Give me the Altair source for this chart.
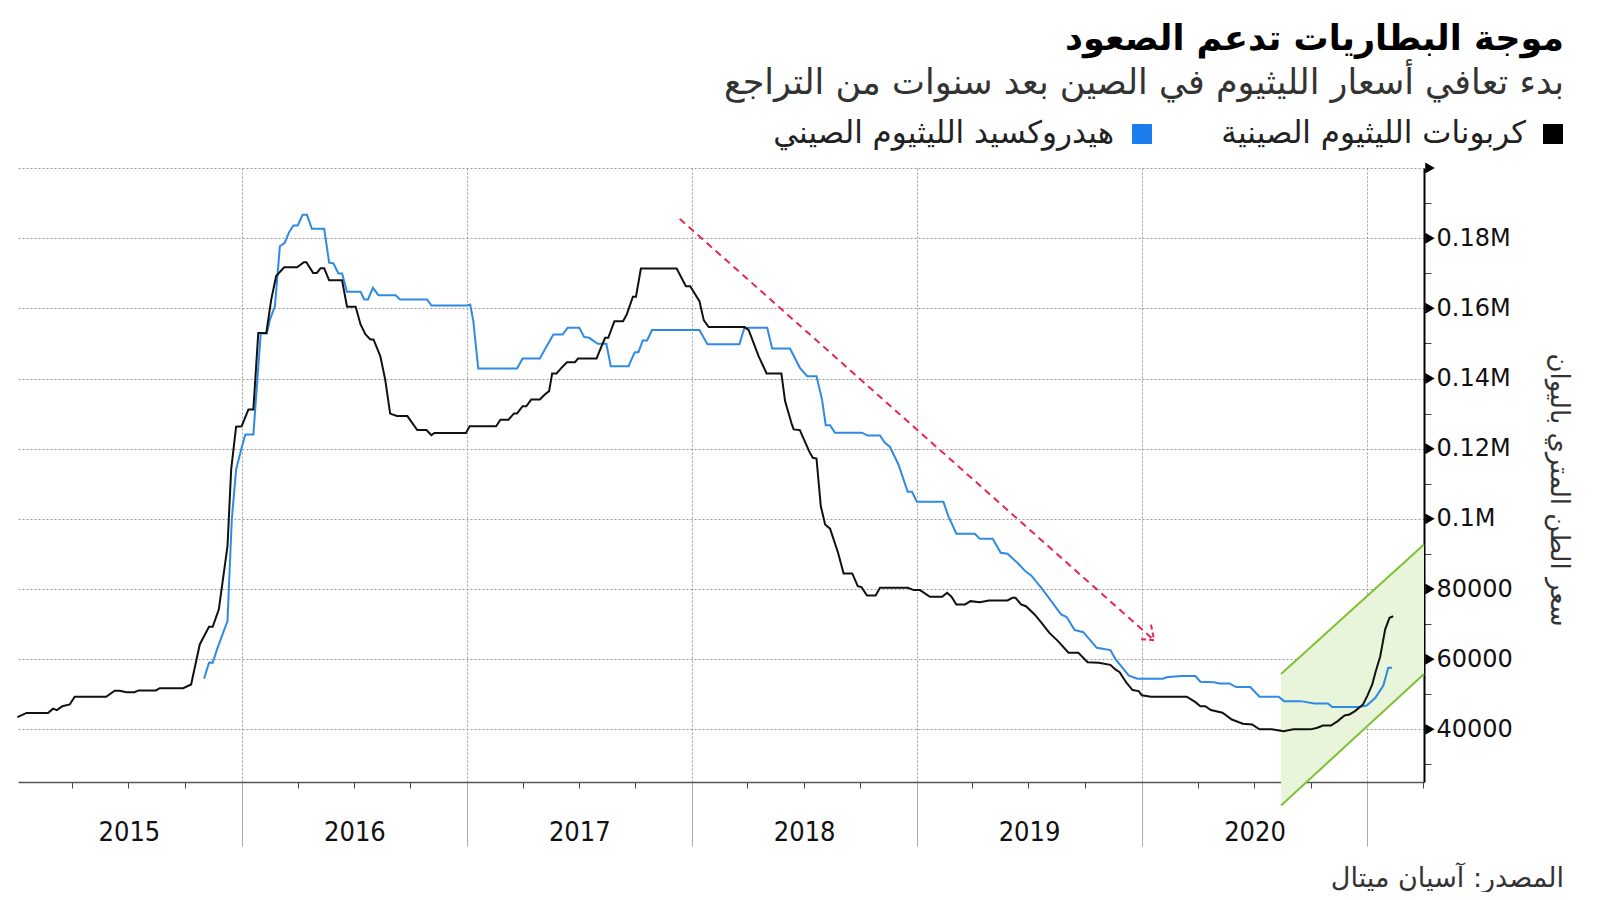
import altair as alt
import pandas as pd

TITLE = "موجة البطاريات تدعم الصعود"
SUBTITLE = "بدء تعافي أسعار الليثيوم في الصين بعد سنوات من التراجع"
LEGEND_CARB = "كربونات الليثيوم الصينية"
LEGEND_HYD = "هيدروكسيد الليثيوم الصيني"
Y_TITLE = "سعر الطن المتري باليوان"
SOURCE = "المصدر: آسيان ميتال"

carb_dates = [
    "2015-01-02", "2015-01-17", "2015-02-21", "2015-03-01", "2015-03-07", "2015-03-16", "2015-03-28",
    "2015-04-05", "2015-05-26", "2015-06-09", "2015-06-17", "2015-06-28", "2015-07-11", "2015-07-18",
    "2015-08-15", "2015-08-21", "2015-09-28", "2015-10-11", "2015-10-25", "2015-11-09", "2015-11-15",
    "2015-11-25", "2015-12-09", "2015-12-15", "2015-12-23", "2016-01-01", "2016-01-12", "2016-01-20",
    "2016-01-28", "2016-02-10", "2016-02-18", "2016-02-26", "2016-03-10", "2016-03-31", "2016-04-11",
    "2016-04-15", "2016-04-26", "2016-05-02", "2016-05-08", "2016-05-14", "2016-05-22", "2016-06-12",
    "2016-06-20", "2016-07-04", "2016-07-12", "2016-07-20", "2016-07-28", "2016-08-02", "2016-08-13",
    "2016-08-21", "2016-08-29", "2016-09-09", "2016-09-26", "2016-10-12", "2016-10-27", "2016-11-04",
    "2016-11-09", "2016-12-30", "2017-01-05", "2017-02-17", "2017-02-24", "2017-03-09", "2017-03-18",
    "2017-03-23", "2017-04-01", "2017-04-07", "2017-04-15", "2017-04-29", "2017-05-07", "2017-05-14",
    "2017-05-19", "2017-05-26", "2017-06-03", "2017-06-12", "2017-06-25", "2017-06-30", "2017-07-30",
    "2017-08-06", "2017-08-13", "2017-08-18", "2017-08-28", "2017-09-11", "2017-09-17", "2017-09-27",
    "2017-10-02", "2017-10-10", "2017-12-07", "2017-12-22", "2017-12-29", "2018-01-13", "2018-01-20",
    "2018-01-28", "2018-03-27", "2018-04-03", "2018-04-19", "2018-05-02", "2018-05-26", "2018-06-01",
    "2018-06-12", "2018-06-15", "2018-06-25", "2018-07-10", "2018-07-16", "2018-07-22", "2018-07-29",
    "2018-08-05", "2018-08-13", "2018-08-26", "2018-09-04", "2018-09-18", "2018-09-27", "2018-10-03",
    "2018-10-12", "2018-10-26", "2018-11-02", "2018-12-17", "2018-12-27", "2019-01-06", "2019-01-22",
    "2019-02-11", "2019-02-19", "2019-02-26", "2019-03-06", "2019-03-20", "2019-03-29", "2019-04-13",
    "2019-04-28", "2019-05-28", "2019-06-05", "2019-06-10", "2019-06-19", "2019-06-27", "2019-07-11",
    "2019-07-22", "2019-08-04", "2019-08-18", "2019-09-04", "2019-09-20", "2019-10-05", "2019-10-23",
    "2019-11-11", "2019-11-19", "2019-11-26", "2019-12-07", "2019-12-17", "2019-12-27", "2020-01-01",
    "2020-01-16", "2020-03-14", "2020-03-28", "2020-04-05", "2020-04-13", "2020-04-22", "2020-05-11",
    "2020-05-26", "2020-06-13", "2020-06-28", "2020-07-10", "2020-07-30", "2020-08-18", "2020-09-03",
    "2020-10-01", "2020-10-12", "2020-10-21", "2020-11-03", "2020-11-14", "2020-11-25", "2020-12-03",
    "2020-12-12", "2020-12-25", "2021-01-01", "2021-01-09", "2021-01-14", "2021-01-22", "2021-01-30",
    "2021-02-06", "2021-02-12",
]
carb_values = [
    43500, 44700, 44700, 45900, 45500, 46600, 47100,
    49300, 49300, 51000, 51000, 50600, 50600, 51100,
    51100, 51750, 51750, 52800, 64200, 69250, 69250,
    74200, 92200, 114100, 126250, 126400, 131200, 131200,
    153000, 153000, 162500, 169200, 171700, 171700, 173150,
    173150, 170100, 170100, 171400, 171400, 168000, 168000,
    160450, 160450, 155400, 152550, 151150, 151150, 146400,
    139700, 130000, 129300, 129300, 125300, 125300, 123850,
    124500, 124500, 126400, 126400, 128250, 128250, 130050,
    130050, 132100, 132100, 134000, 134000, 135450, 136400,
    141450, 141450, 143050, 144650, 144650, 145700, 145700,
    148750, 151600, 151600, 156350, 156350, 158250, 163300,
    163300, 171350, 171350, 166300, 166300, 162050, 156650,
    154650, 154650, 153800, 146400, 141450, 141450, 133550,
    126900, 125500, 125300, 119300, 117400, 117200, 103600,
    98400, 97200, 90350, 84450, 84450, 80800, 80550,
    78150, 78150, 80350, 80350, 79700, 79700, 77800,
    77800, 78950, 77800, 75600, 75600, 76550, 76250,
    76750, 76750, 77500, 77500, 75600, 75100, 72750,
    70400, 67500, 65150, 61850, 61850, 59150, 59000,
    58400, 57100, 56300, 53300, 51200, 50900, 49700,
    49300, 49300, 47750, 46600, 46600, 45500, 44750,
    42800, 41600, 41400, 40000, 40000, 39500, 40000,
    40000, 40450, 41100, 41100, 42350, 43950, 44250,
    45200, 47100, 49550, 52800, 56150, 60850, 68500,
    71800, 72250,
]

hyd_dates = [
    "2015-11-01", "2015-11-09", "2015-11-15", "2015-11-22", "2015-12-09", "2015-12-16", "2015-12-23",
    "2016-01-01", "2016-01-07", "2016-01-20", "2016-02-01", "2016-02-11", "2016-02-16", "2016-02-24",
    "2016-03-03", "2016-03-11", "2016-03-18", "2016-03-25", "2016-04-01", "2016-04-09", "2016-04-16",
    "2016-04-24", "2016-05-14", "2016-05-22", "2016-05-29", "2016-06-06", "2016-06-12", "2016-06-20",
    "2016-07-12", "2016-07-18", "2016-07-24", "2016-08-01", "2016-08-10", "2016-09-07", "2016-09-14",
    "2016-10-28", "2016-11-04", "2017-01-01", "2017-01-06", "2017-01-11", "2017-01-19", "2017-03-23",
    "2017-04-01", "2017-04-29", "2017-05-10", "2017-05-21", "2017-06-05", "2017-06-13", "2017-07-02",
    "2017-07-10", "2017-07-18", "2017-08-01", "2017-08-15", "2017-08-22", "2017-09-20", "2017-09-30",
    "2017-10-06", "2017-10-13", "2017-10-20", "2017-10-28", "2018-01-13", "2018-01-26", "2018-03-19",
    "2018-03-27", "2018-05-03", "2018-05-11", "2018-06-09", "2018-06-25", "2018-07-07", "2018-07-22",
    "2018-07-31", "2018-08-06", "2018-08-13", "2018-08-21", "2018-10-04", "2018-10-13", "2018-11-02",
    "2018-11-10", "2018-11-18", "2018-12-02", "2018-12-17", "2018-12-24", "2019-01-01", "2019-02-13",
    "2019-02-21", "2019-03-06", "2019-04-05", "2019-04-13", "2019-05-04", "2019-05-17", "2019-05-28",
    "2019-06-13", "2019-06-27", "2019-07-05", "2019-07-22", "2019-08-07", "2019-08-23", "2019-09-01",
    "2019-09-14", "2019-09-28", "2019-10-20", "2019-11-11", "2019-11-19", "2019-12-11", "2019-12-25",
    "2020-02-04", "2020-02-12", "2020-03-06", "2020-03-28", "2020-04-05", "2020-04-27", "2020-05-06",
    "2020-05-22", "2020-06-02", "2020-06-25", "2020-07-10", "2020-08-10", "2020-08-19", "2020-09-15",
    "2020-10-07", "2020-10-29", "2020-11-05", "2020-12-18", "2020-12-31", "2021-01-14", "2021-01-27",
    "2021-02-04", "2021-02-10",
]
hyd_values = [
    54450, 59000, 59000, 62800, 70850, 99800, 114100,
    120250, 124050, 124050, 152850, 152850, 156850, 160600,
    177700, 178700, 181700, 183600, 183600, 186650, 186650,
    182650, 182650, 173000, 172800, 169950, 169950, 164700,
    164700, 162550, 162550, 165850, 163750, 163750, 162550,
    162550, 160800, 160800, 161100, 156350, 142850, 142850,
    145700, 145700, 149200, 152550, 152550, 154450, 154450,
    151800, 151600, 149900, 149900, 143500, 143500, 147500,
    147500, 150850, 150850, 153800, 153800, 149800, 149800,
    154450, 154450, 148550, 148550, 143050, 140650, 140650,
    134000, 126700, 126700, 124550, 124550, 123750, 123750,
    121700, 120550, 115500, 107700, 107700, 104850, 104850,
    100750, 95750, 95750, 94300, 94300, 90350, 90050,
    87500, 84900, 83950, 80350, 76550, 72750, 72000,
    68300, 67700, 63250, 62600, 60100, 55300, 54450,
    54450, 54900, 55200, 55200, 53600, 53450, 53100,
    53100, 52050, 52050, 49300, 49300, 48050, 48050,
    47400, 47400, 46350, 46350, 46800, 49000, 52500,
    57550, 57550,
]

x_domain = ["2015-01-03", "2021-04-03"]
y_domain = [25000, 200000]
year_lines = ["2016-01-01", "2017-01-01", "2018-01-01", "2019-01-01", "2020-01-01", "2021-01-01"]
quarter_ticks = [
    "2015-04-01", "2015-07-01", "2015-10-01", "2016-04-01", "2016-07-01", "2016-10-01",
    "2017-04-01", "2017-07-01", "2017-10-01", "2018-04-01", "2018-07-01", "2018-10-01",
    "2019-04-01", "2019-07-01", "2019-10-01", "2020-04-01", "2020-07-01", "2020-10-01",
    "2021-04-01",
]
year_label_dates = ["2015-07-02", "2016-07-02", "2017-07-02", "2018-07-02", "2019-07-02", "2020-07-02"]
y_major = [40000, 60000, 80000, 100000, 120000, 140000, 160000, 180000, 200000]
y_minor = [30000, 50000, 70000, 90000, 110000, 130000, 150000, 170000, 190000]

band_dates = ["2020-08-14", "2021-04-03"]
band_low = [18300, 55800]
band_high = [55800, 92700]

arrow_start = ["2017-12-12", 185500]
arrow_end = ["2020-01-21", 65400]

BLACK = "#111111"
BLUE = "#2f8ae3"
RED = "#e5294c"
GREEN = "#80c034"
BAND_FILL = "#e8f5da"
GRID = "#9a9a9a"

W, H = 1406, 614


def ms(s):
    return int(pd.Timestamp(s).value // 10**6)


xs = alt.Scale(type="utc", domain=[ms(d) for d in x_domain])
ys = alt.Scale(domain=y_domain, nice=False, zero=False)

carb_df = pd.DataFrame({"date": carb_dates, "price": carb_values})
hyd_df = pd.DataFrame({"date": hyd_dates, "price": hyd_values})
band_df = pd.DataFrame({"date": band_dates, "lo": band_low, "hi": band_high})
arrow_df = pd.DataFrame({"d1": [arrow_start[0]], "v1": [arrow_start[1]],
                         "d2": [arrow_end[0]], "v2": [arrow_end[1]]})
tri_df = pd.DataFrame({"v": y_major})

axis_years = alt.Axis(
    orient="bottom", values=[ms(d) for d in year_lines], labels=False, title=None,
    grid=True, gridColor=GRID, gridDash=[2, 2], gridWidth=1,
    ticks=True, tickSize=64, tickColor="#aaaaaa", tickWidth=1,
    domain=True, domainColor="#555555", domainWidth=1.5,
)
axis_quarters = alt.Axis(
    orient="bottom", values=[ms(d) for d in quarter_ticks], labels=False, title=None,
    grid=False, ticks=True, tickSize=6, tickColor="#444444", tickWidth=1, domain=False,
)
axis_year_labels = alt.Axis(
    orient="bottom", values=[ms(d) for d in year_label_dates], title=None,
    grid=False, ticks=False, domain=False, labelPadding=37,
    labelExpr="utcFormat(datum.value, '%Y')", labelFlush=False, labelOverlap=False,
    labelFont="DejaVu Sans Condensed", labelFontSize=27, labelColor="#111111",
)
axis_y_major = alt.Axis(
    orient="right", values=y_major, title=None,
    grid=True, gridColor=GRID, gridDash=[2, 2], gridWidth=1,
    ticks=False, domain=True, domainColor="#000000", domainWidth=2,
    labelPadding=12, labelOverlap=False, labelFlush=False,
    labelExpr="datum.value >= 200000 ? '' : (datum.value >= 100000 ? format(datum.value / 1000000, '.2~f') + 'M' : format(datum.value, 'd'))",
    labelFont="DejaVu Sans", labelFontSize=24, labelColor="#111111", labelBaseline="middle",
)
axis_y_minor = alt.Axis(
    orient="right", values=y_minor, title=None, labels=False, grid=False,
    ticks=True, tickSize=7, tickColor="#444444", tickWidth=1, domain=False,
)

band_area = alt.Chart(band_df).mark_area(color=BAND_FILL, opacity=1).encode(
    x=alt.X("date:T", scale=xs, axis=axis_year_labels),
    y=alt.Y("lo:Q", scale=ys, axis=None),
    y2="hi:Q",
)
band_hi = alt.Chart(band_df).mark_line(color=GREEN, strokeWidth=2).encode(
    x=alt.X("date:T", scale=xs, axis=None), y=alt.Y("hi:Q", scale=ys, axis=None))
band_lo = alt.Chart(band_df).mark_line(color=GREEN, strokeWidth=2).encode(
    x=alt.X("date:T", scale=xs, axis=None), y=alt.Y("lo:Q", scale=ys, axis=None))

arrow_line = alt.Chart(arrow_df).mark_rule(color=RED, strokeWidth=2, strokeDash=[7, 5]).encode(
    x=alt.X("d1:T", scale=xs, axis=None), x2="d2:T",
    y=alt.Y("v1:Q", scale=ys, axis=None), y2="v2:Q",
)
arrow_head = alt.Chart(arrow_df).mark_point(
    shape="M-1,-0.75L0,0L-1,0.75", filled=False, size=650, angle=41.8,
    color=RED, strokeWidth=2, strokeDash=[5, 3], opacity=1,
).encode(x=alt.X("d2:T", scale=xs, axis=None), y=alt.Y("v2:Q", scale=ys, axis=None))

hyd_line = alt.Chart(hyd_df).mark_line(color=BLUE, strokeWidth=2).encode(
    x=alt.X("date:T", scale=xs, axis=axis_quarters),
    y=alt.Y("price:Q", scale=ys, axis=axis_y_minor),
)
carb_line = alt.Chart(carb_df).mark_line(color=BLACK, strokeWidth=2).encode(
    x=alt.X("date:T", scale=xs, axis=axis_years),
    y=alt.Y("price:Q", scale=ys, axis=axis_y_major),
)

tri = alt.Chart(tri_df).mark_point(shape="triangle-right", filled=True, color="#000000",
                                   size=120, opacity=1).encode(
    x=alt.value(W + 6), y=alt.Y("v:Q", scale=ys, axis=None))


def text_layer(txt, x, y, size, weight="normal", color="#222222", angle=0, align="right"):
    df = pd.DataFrame({"t": [txt]})
    return alt.Chart(df).mark_text(
        align=align, baseline="middle", font="DejaVu Sans", fontSize=size,
        fontWeight=weight, color=color, angle=angle,
    ).encode(x=alt.value(x), y=alt.value(y), text="t:N")


title = text_layer(TITLE, 1546, -129, 35, weight="bold", color="#000000")
subtitle = text_layer(SUBTITLE, 1546, -85, 35, color="#333333")
leg_carb_txt = text_layer(LEGEND_CARB, 1508, -34, 31, color="#222222")
leg_hyd_txt = text_layer(LEGEND_HYD, 1096, -34, 31, color="#222222")
y_title = text_layer(Y_TITLE, 1541, 322, 26, color="#333333", angle=90, align="center")
source = text_layer(SOURCE, 1546, 711, 27, color="#333333")

leg_df = pd.DataFrame({"k": [0]})
leg_carb_sq = alt.Chart(leg_df).mark_square(color="#000000", size=400, opacity=1).encode(
    x=alt.value(1535), y=alt.value(-34))
leg_hyd_sq = alt.Chart(leg_df).mark_square(color="#1a7df0", size=400, opacity=1).encode(
    x=alt.value(1124), y=alt.value(-34))

chart = alt.layer(
    band_area, band_hi, band_lo, arrow_line, arrow_head, hyd_line, carb_line, tri,
    title, subtitle, leg_carb_txt, leg_hyd_txt, leg_carb_sq, leg_hyd_sq, y_title, source,
).resolve_axis(x="independent", y="independent").properties(
    width=W, height=H,
    autosize=alt.AutoSizeParams(type="none"),
    padding={"left": 10, "top": 160, "right": 168, "bottom": 110},
    background="#ffffff",
).configure_view(strokeOpacity=0)

chart.save("out.html", embed_options={"renderer": "svg", "actions": False})
